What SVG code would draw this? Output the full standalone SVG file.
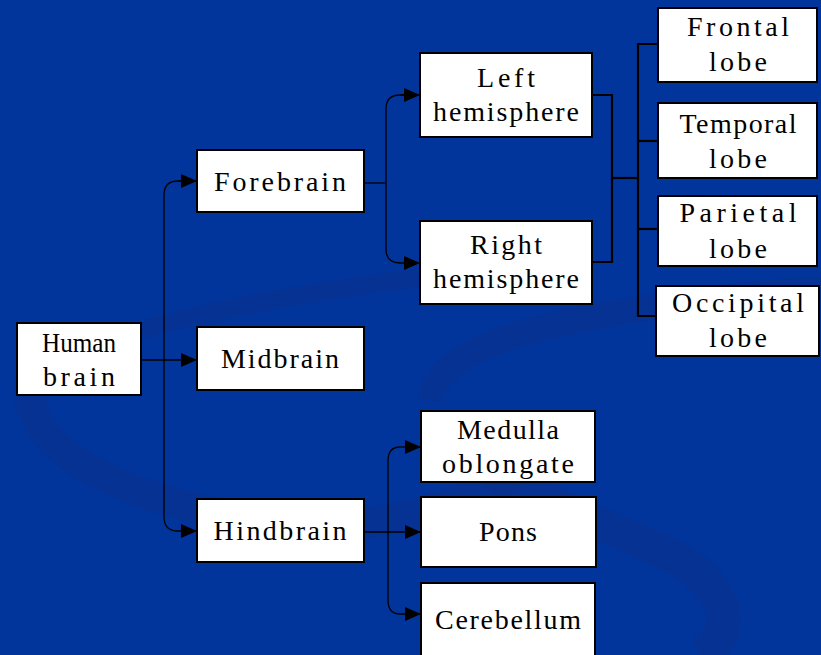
<svg xmlns="http://www.w3.org/2000/svg" width="821" height="655" viewBox="0 0 821 655">
<style>
.box{fill:#fff;stroke:#000;stroke-width:2}
.t{font-family:"Liberation Serif","DejaVu Serif",serif;font-size:28px;fill:#000;text-anchor:middle}
.c{fill:none;stroke:#000;stroke-width:1.3}
.c2{fill:none;stroke:#000;stroke-width:2.2}
.sw{fill:none;stroke:#0a2f8c;opacity:0.55}
</style>
<defs>
<marker id="ah" markerWidth="16" markerHeight="14" refX="16" refY="7" orient="auto" markerUnits="userSpaceOnUse">
<path d="M0,0 L16,7 L0,14 Z" fill="#000"/>
</marker>
</defs>
<rect width="821" height="655" fill="#02359b"/>
<g id="background">
<path class="sw" stroke-width="30" d="M30,380 C20,450 120,500 260,520 C380,540 470,500 520,470"/>
<path class="sw" stroke-width="26" d="M430,400 C440,340 560,320 700,300 C780,290 821,290 821,290"/>
<path class="sw" stroke-width="34" d="M440,420 C470,480 600,520 680,560 C740,600 730,640 700,655"/>
<path class="sw" stroke-width="18" d="M140,330 C250,300 380,280 500,270"/>
</g>
<g id="connectors">
<path class="c" d="M141,360 H197" marker-end="url(#ah)"/>
<path class="c" d="M197,181 H178 Q164,181 164,195 V517 Q164,531 178,531 H197" marker-end="url(#ah)"/>
<path class="c" d="M178,181 H197" marker-end="url(#ah)"/>
<path class="c" d="M364,183 H386"/>
<path class="c" d="M420,95 H400 Q386,95 386,109 V249 Q386,263 400,263 H420" marker-end="url(#ah)"/>
<path class="c" d="M400,95 H420" marker-end="url(#ah)"/>
<path class="c" d="M364,532 H421" marker-end="url(#ah)"/>
<path class="c" d="M400,447 Q388,447 388,461 V600 Q388,614 400,614 H421" marker-end="url(#ah)"/>
<path class="c" d="M400,447 H421" marker-end="url(#ah)"/>
<path class="c2" d="M592,95 H612 V262 H592"/>
<path class="c2" d="M612,178 H638"/>
<path class="c2" d="M658,44 H638 V316 H656"/>
<path class="c2" d="M638,141 H658"/>
<path class="c2" d="M638,229 H658"/>
</g>
<g id="human-brain"><rect class="box" x="17" y="323" width="124" height="72"/><text class="t" x="79" y="352" textLength="74" lengthAdjust="spacingAndGlyphs">Human</text><text class="t" x="79" y="386" textLength="72" lengthAdjust="spacing">brain</text></g>
<g id="forebrain"><rect class="box" x="197" y="150" width="167" height="62"/><text class="t" x="280" y="191" textLength="132" lengthAdjust="spacing">Forebrain</text></g>
<g id="midbrain"><rect class="box" x="197" y="327" width="167" height="63"/><text class="t" x="280" y="368" textLength="118" lengthAdjust="spacing">Midbrain</text></g>
<g id="hindbrain"><rect class="box" x="197" y="499" width="167" height="63"/><text class="t" x="280" y="540" textLength="133" lengthAdjust="spacing">Hindbrain</text></g>
<g id="left-hemisphere"><rect class="box" x="420" y="53" width="172" height="84"/><text class="t" x="506" y="87" textLength="58" lengthAdjust="spacing">Left</text><text class="t" x="506" y="121" textLength="146" lengthAdjust="spacing">hemisphere</text></g>
<g id="right-hemisphere"><rect class="box" x="420" y="221" width="172" height="83"/><text class="t" x="506" y="254" textLength="72" lengthAdjust="spacing">Right</text><text class="t" x="506" y="288" textLength="146" lengthAdjust="spacing">hemisphere</text></g>
<g id="medulla"><rect class="box" x="421" y="411" width="174" height="71"/><text class="t" x="508" y="439" textLength="102" lengthAdjust="spacing">Medulla</text><text class="t" x="508" y="473" textLength="132" lengthAdjust="spacing">oblongate</text></g>
<g id="pons"><rect class="box" x="421" y="497" width="175" height="70"/><text class="t" x="508" y="541" textLength="58" lengthAdjust="spacing">Pons</text></g>
<g id="cerebellum"><rect class="box" x="421" y="583" width="174" height="80"/><text class="t" x="508" y="629" textLength="146" lengthAdjust="spacing">Cerebellum</text></g>
<g id="frontal-lobe"><rect class="box" x="658" y="8" width="159" height="74"/><text class="t" x="738" y="36" textLength="102" lengthAdjust="spacing">Frontal</text><text class="t" x="738" y="71" textLength="58" lengthAdjust="spacing">lobe</text></g>
<g id="temporal-lobe"><rect class="box" x="658" y="103" width="159" height="75"/><text class="t" x="738" y="133" textLength="117" lengthAdjust="spacing">Temporal</text><text class="t" x="738" y="168" textLength="58" lengthAdjust="spacing">lobe</text></g>
<g id="parietal-lobe"><rect class="box" x="658" y="196" width="159" height="70"/><text class="t" x="738" y="222" textLength="117" lengthAdjust="spacing">Parietal</text><text class="t" x="738" y="258" textLength="58" lengthAdjust="spacing">lobe</text></g>
<g id="occipital-lobe"><rect class="box" x="656" y="286" width="163" height="70"/><text class="t" x="738" y="312" textLength="132" lengthAdjust="spacing">Occipital</text><text class="t" x="738" y="347" textLength="58" lengthAdjust="spacing">lobe</text></g>
</svg>
